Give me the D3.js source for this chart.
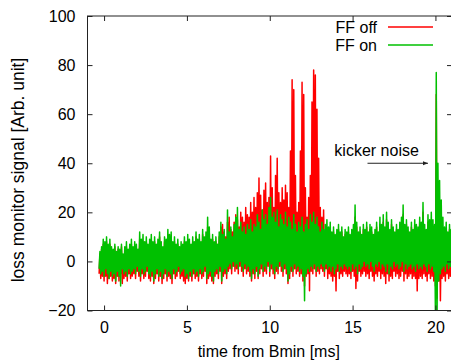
<!DOCTYPE html>
<html>
<head>
<meta charset="utf-8">
<script src="https://cdn.jsdelivr.net/npm/d3@7"></script>
<style>
  body { margin: 0; background: #fff; }
  text { font-family: "Liberation Sans", Arial, sans-serif; fill: #000; }
</style>
</head>
<body>
<div id="app"></div>
<script>
const width = 451;
const height = 361;
const margin = { top: 16, right: -1, bottom: 50.5, left: 87.5 };

// sampling grid of the traces (ms)
const t0 = -0.3;
const dt = 0.1;

const xTicks = [0, 5, 10, 15, 20];
const yTicks = [-20, 0, 20, 40, 60, 80, 100];

// FF on (green): upper / lower envelope per 0.1 ms sample
const onHi = [
  4, 6, 9, 8, 10, 7, 9, 6, 5, 7,
  4, 6, 5, 7, 3, 6, 8, 5, 7, 9,
  6, 8, 7, 5, 12, 9, 11, 8, 10, 7,
  9, 11, 8, 10, 7, 9, 12, 8, 6, 10,
  9, 13, 11, 12, 8, 10, 7, 9, 6, 8,
  7, 10, 8, 11, 9, 7, 10, 8, 12, 9,
  11, 8, 13, 10, 12, 18, 14, 9, 11, 8,
  10, 7, 12, 16, 11, 13, 9, 21, 12, 14,
  10, 15, 18, 22, 13, 16, 12, 14, 11, 15,
  13, 17, 12, 15, 14, 19, 16, 13, 21, 17,
  19, 15, 22, 26, 18, 20, 16, 21, 14, 19,
  17, 15, 20, 14, 18, 16, 13, 19, 15, 12,
  16, 14, 18, 12, 15, 17, 13, 19, 16, 20,
  15, 18, 14, 12, 16, 13, 15, 17, 14, 16,
  12, 14, 11, 13, 15, 12, 14, 10, 13, 12,
  14, 11, 13, 15, 23, 16, 12, 14, 11, 15,
  13, 16, 12, 15, 14, 11, 13, 16, 12, 18,
  15, 19, 14, 20, 16, 13, 17, 14, 12, 15,
  13, 16, 18, 23, 15, 17, 14, 12, 16, 13,
  17, 15, 14, 18, 16, 24, 15, 13, 19, 17,
  20, 17, 15, 77, 40, 33, 25, 18, 14, 16,
  12, 15, 13, 14
];
const onLo = [
  -3, -5, -4, -6, -3, -5, -7, -4, -6, -5,
  -8, -4, -6, -10, -3, -5, -4, -6, -3, -5,
  -4, -3, -5, -2, -4, -6, -3, -5, -4, -2,
  -5, -6, -4, -8, -5, -3, -6, -4, -7, -5,
  -3, -6, -4, -5, -7, -3, -5, -4, -2, -5,
  -4, -3, -6, -5, -7, -4, -6, -3, -5, -4,
  -6, -3, -5, -4, -2, -7, -5, -4, -6, -8,
  -4, -3, -5, -2, -8, -4, -3, -5, -2, -1,
  -3, 0, -2, -1, -3, 0, -2, -4, -1, -3,
  -2, -4, -7, -3, -5, -2, -6, -3, -1, -4,
  -2, -3, 0, -4, -1, -3, -5, -2, -3, 0,
  -2, -4, -1, -3, -8, -5, -2, -4, -1, -3,
  -2, -4, -3, -6, -16, -5, -3, -4, -2, -3,
  -1, -4, -2, -3, -1, -2, -4, -1, -3, -2,
  -4, -2, -5, -3, -1, -4, -2, -3, -1, -2,
  -3, -2, -4, -1, -3, -2, -5, -1, -3, -2,
  0, -2, -1, -3, 0, -2, -4, -1, -2, 0,
  -3, -1, -2, -4, -1, -5, -2, -3, 0, -2,
  -1, -3, -2, 0, -4, -1, -3, -2, -1, -3,
  -2, -4, -1, -3, -2, -3, -1, -2, -4, -1,
  -3, -2, -4, -22, -22, -8, -5, -3, -2, -4,
  -1, -3, -2, -4
];

// FF off (red): upper / lower envelope per 0.1 ms sample
const offHi = [
  3, 5, 7, 6, 8, 5, 7, 4, 3, 6,
  2, 5, 4, 6, 2, 4, 6, 3, 5, 7,
  4, 6, 5, 3, 9, 7, 8, 6, 8, 5,
  7, 9, 6, 8, 5, 7, 10, 6, 4, 8,
  7, 11, 9, 10, 6, 8, 5, 7, 4, 6,
  5, 8, 6, 9, 7, 5, 8, 6, 10, 7,
  9, 6, 11, 8, 10, 14, 12, 7, 9, 6,
  8, 6, 10, 14, 15, 12, 10, 16, 18, 13,
  12, 16, 19, 17, 14, 20, 18, 16, 22, 19,
  18, 24, 20, 26, 22, 28, 34, 27, 21, 29,
  32, 24, 26, 43, 30, 22, 35, 42, 28, 24,
  30, 25, 31, 28, 22, 45, 74, 70, 35, 20,
  24, 45, 73, 68, 30, 18, 26, 35, 65, 78,
  76, 62, 42, 22, 18, 21, 12, 10, 13, 9,
  10, 12, 9, 11, 13, 10, 12, 8, 11, 10,
  12, 9, 11, 13, 18, 14, 10, 12, 9, 13,
  11, 14, 10, 13, 12, 9, 11, 14, 10, 15,
  13, 16, 12, 17, 14, 11, 15, 12, 10, 13,
  11, 14, 16, 19, 13, 15, 12, 10, 14, 11,
  15, 13, 12, 16, 14, 20, 13, 11, 16, 15,
  17, 14, 12, 68, 20, 15, 10, 12, 10, 13,
  11, 13, 10, 12
];
const offLo = [
  -5, -7, -6, -8, -6, -9, -7, -6, -8, -7,
  -9, -6, -8, -5, -9, -7, -6, -8, -5, -7,
  -6, -5, -7, -4, -6, -8, -5, -7, -6, -4,
  -7, -8, -6, -9, -7, -5, -8, -6, -9, -7,
  -5, -8, -6, -7, -9, -5, -7, -6, -4, -7,
  -6, -8, -9, -7, -8, -6, -8, -5, -7, -6,
  -8, -5, -7, -6, -4, -9, -7, -6, -8, -9,
  -6, -5, -7, -4, -9, -6, -5, -7, -4, -3,
  -5, -2, -4, -3, -5, -2, -4, -6, -3, -5,
  -4, -6, -8, -5, -7, -4, -7, -5, -3, -6,
  -4, -5, -2, -6, -3, -5, -7, -4, -5, -2,
  -4, -6, -3, -5, -9, -7, -4, -6, -3, -5,
  -4, -6, -5, -8, -10, -6, -5, -12, -4, -5,
  -3, -6, -4, -5, -3, -4, -6, -3, -7, -5,
  -6, -8, -6, -12, -4, -7, -5, -6, -4, -5,
  -6, -5, -7, -4, -6, -11, -8, -4, -6, -5,
  -4, -6, -5, -7, -4, -6, -8, -5, -6, -4,
  -7, -5, -6, -9, -5, -8, -6, -7, -4, -6,
  -5, -7, -6, -4, -8, -5, -7, -6, -5, -7,
  -6, -7, -12, -7, -6, -7, -5, -6, -8, -5,
  -7, -6, -8, -10, -15, -8, -16, -7, -6, -8,
  -5, -7, -6, -8
];

const series = [
  { label: "FF off", color: "#ff0000", hi: offHi, lo: offLo },
  { label: "FF on", color: "#00c000", hi: onHi, lo: onLo },
];

const xScale = d3.scaleLinear().domain([-1, 21]).range([margin.left, width - margin.right]);
const yScale = d3.scaleLinear().domain([-20, 100]).range([height - margin.bottom, margin.top]);

const svg = d3.select("#app").append("svg")
  .attr("width", width)
  .attr("height", height);

svg.append("clipPath").attr("id", "plot-clip")
  .append("rect")
  .attr("x", xScale(-1))
  .attr("y", yScale(100))
  .attr("width", xScale(21) - xScale(-1))
  .attr("height", yScale(-20) - yScale(100));

// traces: zigzag between the lower and upper value of each sample
const line = d3.line().x((d) => xScale(d[0])).y((d) => yScale(d[1]));

svg.append("g").attr("clip-path", "url(#plot-clip)")
  .selectAll("path")
  .data(series)
  .enter()
  .append("path")
  .attr("fill", "none")
  .attr("stroke", (d) => d.color)
  .attr("stroke-width", 1.5)
  .attr("stroke-linejoin", "round")
  .attr("d", (d) => line(d.lo.flatMap((lo, i) => [
    [t0 + dt * i, lo],
    [t0 + dt * i + dt / 2, d.hi[i]],
  ])));

// axes, gnuplot style ticks pointing inward on all sides
const axisStyle = (g) => {
  g.select(".domain").remove();
  g.selectAll(".tick line").attr("stroke", "#222");
  g.selectAll(".tick text").style("font-size", "16px").attr("fill", "#000");
};

svg.append("g")
  .attr("transform", `translate(0, ${yScale(-20)})`)
  .call(d3.axisBottom(xScale).tickValues(xTicks).tickSize(-5).tickPadding(11))
  .call(axisStyle);
svg.append("g")
  .attr("transform", `translate(0, ${yScale(100)})`)
  .call(d3.axisTop(xScale).tickValues(xTicks).tickSize(-5).tickFormat(""))
  .call(axisStyle);
svg.append("g")
  .attr("transform", `translate(${xScale(-1)}, 0)`)
  .call(d3.axisLeft(yScale).tickValues(yTicks).tickSize(-5).tickPadding(12))
  .call(axisStyle);
svg.append("g")
  .attr("transform", `translate(${xScale(21)}, 0)`)
  .call(d3.axisRight(yScale).tickValues(yTicks).tickSize(-5).tickFormat(""))
  .call(axisStyle);

svg.append("rect")
  .attr("x", xScale(-1))
  .attr("y", yScale(100))
  .attr("width", xScale(21) - xScale(-1))
  .attr("height", yScale(-20) - yScale(100))
  .attr("fill", "none")
  .attr("stroke", "#222")
  .attr("stroke-width", 1);

// axis titles
svg.append("text")
  .attr("x", (xScale(-1) + xScale(21) - 2) / 2)
  .attr("y", 357)
  .attr("text-anchor", "middle")
  .style("font-size", "16px")
  .text("time from Bmin [ms]");

svg.append("text")
  .attr("transform", "translate(23.5, 170) rotate(-90)")
  .attr("text-anchor", "middle")
  .style("font-size", "17.5px")
  .text("loss monitor signal [Arb. unit]");

// legend
const legend = svg.append("g").attr("transform", "translate(377, 27)");
series.forEach((s, i) => {
  const row = legend.append("g").attr("transform", `translate(0, ${i * 18})`);
  row.append("text")
    .attr("x", 0)
    .attr("y", 5.5)
    .attr("text-anchor", "end")
    .style("font-size", "16px")
    .text(s.label);
  row.append("line")
    .attr("x1", 11)
    .attr("x2", 56)
    .attr("stroke", s.color)
    .attr("stroke-width", 1.4);
});

// annotation
svg.append("defs").append("marker")
  .attr("id", "arrow")
  .attr("viewBox", "0 0 10 10")
  .attr("refX", 10)
  .attr("refY", 5)
  .attr("markerWidth", 7)
  .attr("markerHeight", 5)
  .attr("orient", "auto")
  .append("path")
  .attr("d", "M0,1 L10,5 L0,9 Z")
  .attr("fill", "#222");

svg.append("line")
  .attr("x1", xScale(15.9))
  .attr("x2", xScale(19.55))
  .attr("y1", yScale(40))
  .attr("y2", yScale(40))
  .attr("stroke", "#222")
  .attr("stroke-width", 1)
  .attr("marker-end", "url(#arrow)");

svg.append("text")
  .attr("x", xScale(13.9))
  .attr("y", yScale(43))
  .style("font-size", "16px")
  .text("kicker noise");
</script>
</body>
</html>
